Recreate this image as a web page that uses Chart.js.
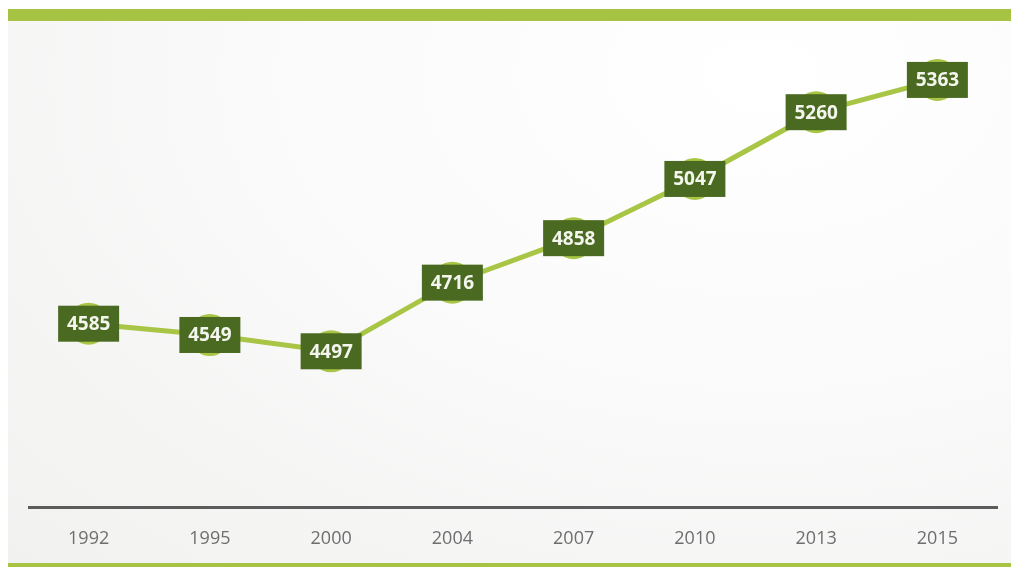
<!DOCTYPE html>
<html>
<head>
<meta charset="utf-8">
<script src="https://cdn.jsdelivr.net/npm/chart.js@4.4.0/dist/chart.umd.min.js"></script>
<style>
  html, body { margin:0; padding:0; width:1011px; height:567px; overflow:hidden; background:#ffffff; }
  #bg { position:absolute; left:8px; top:21px; width:1003px; height:542px;
        background: radial-gradient(ellipse at 75% 10%, #ffffff 0%, #fbfbfb 40%, #f1f1f0 100%); }
  #topbar { position:absolute; left:8px; top:9px; width:1003px; height:12px; background:#a6c344; }
  #botbar { position:absolute; left:8px; top:563px; width:1003px; height:4px; background:#a6c344; }
  #wrap { position:absolute; left:28px; top:0px; width:970px; height:567px; }
</style>
</head>
<body>
<div id="bg"></div>
<div id="topbar"></div>
<div id="botbar"></div>
<div id="wrap"><canvas id="c"></canvas></div>
<script>
const years = ["1992", "1995", "2000", "2004", "2007", "2010", "2013", "2015"];
const values = [4585, 4549, 4497, 4716, 4858, 5047, 5260, 5363];

const labelBoxes = {
  id: 'labelBoxes',
  afterDatasetsDraw(chart) {
    const ctx = chart.ctx;
    const meta = chart.getDatasetMeta(0);
    ctx.save();
    ctx.font = 'bold 19px "Open Sans", sans-serif';
    ctx.textAlign = 'center';
    ctx.textBaseline = 'middle';
    meta.data.forEach((pt, i) => {
      const w = 61, h = 36;
      ctx.fillStyle = '#4b6a21';
      ctx.fillRect(pt.x - w / 2, pt.y - h / 2, w, h);
      ctx.fillStyle = '#f4f6ee';
      ctx.fillText(String(values[i]), pt.x, pt.y + 1);
    });
    ctx.restore();
  }
};

new Chart(document.getElementById('c'), {
  type: 'line',
  data: {
    labels: years,
    datasets: [{
      data: values,
      borderColor: '#a8c545',
      borderWidth: 5,
      pointRadius: 21,
      pointHoverRadius: 21,
      pointBackgroundColor: '#a8c545',
      pointBorderWidth: 0,
      tension: 0,
      clip: false
    }]
  },
  options: {
    responsive: true,
    maintainAspectRatio: false,
    animation: false,
    events: [],
    layout: { autoPadding: false, padding: { top: 37, left: 0, right: 0, bottom: 0 } },
    plugins: { legend: { display: false }, tooltip: { enabled: false } },
    scales: {
      x: {
        offset: true,
        grid: { display: false, drawTicks: false },
        border: { display: true, color: '#5c5c5c', width: 3 },
        ticks: { color: '#6e6e6e', font: { family: '"Open Sans", sans-serif', size: 18 }, padding: 21 },
        afterFit(scale) { scale.height = 60; }
      },
      y: {
        display: false,
        min: 4000,
        max: 5500
      }
    }
  },
  plugins: [labelBoxes]
});
</script>
</body>
</html>
